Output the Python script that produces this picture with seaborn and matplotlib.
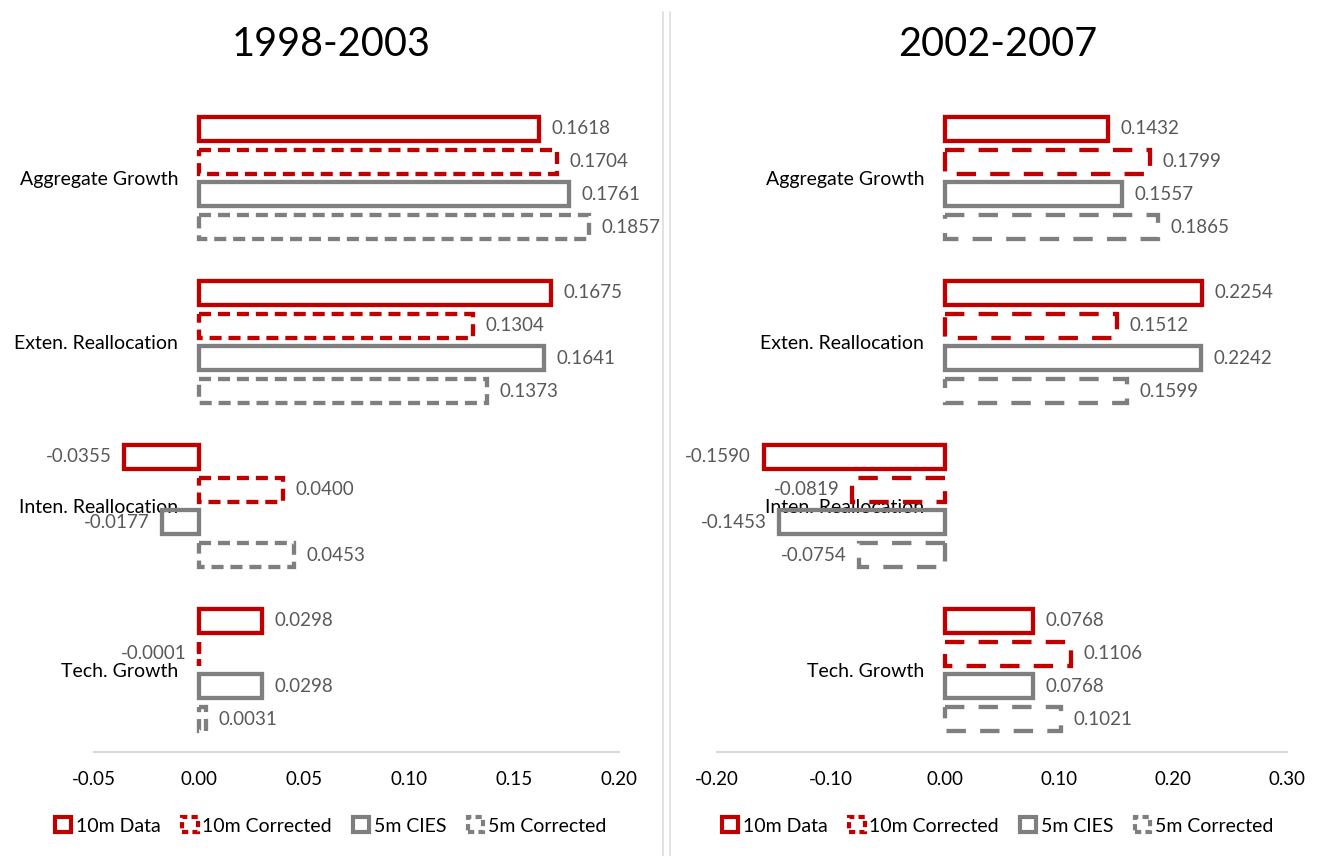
import pandas as pd
import matplotlib.pyplot as plt
from matplotlib.patches import Patch
from matplotlib.lines import Line2D
import seaborn as sns

# data
categories = ["Aggregate Growth", "Exten. Reallocation", "Inten. Reallocation", "Tech. Growth"]
series = ["10m Data", "10m Corrected", "5m CIES", "5m Corrected"]

p1_10m_data = [0.1618, 0.1675, -0.0355, 0.0298]
p1_10m_corr = [0.1704, 0.1304, 0.0400, -0.0001]
p1_5m_cies = [0.1761, 0.1641, -0.0177, 0.0298]
p1_5m_corr = [0.1857, 0.1373, 0.0453, 0.0031]

p2_10m_data = [0.1432, 0.2254, -0.1590, 0.0768]
p2_10m_corr = [0.1799, 0.1512, -0.0819, 0.1106]
p2_5m_cies = [0.1557, 0.2242, -0.1453, 0.0768]
p2_5m_corr = [0.1865, 0.1599, -0.0754, 0.1021]

titles = ["1998-2003", "2002-2007"]
xticks1 = [-0.05, 0.00, 0.05, 0.10, 0.15, 0.20]
xticks2 = [-0.20, -0.10, 0.00, 0.10, 0.20, 0.30]

RED = "#C00000"
GRAY = "#7F7F7F"
colors = [RED, RED, GRAY, GRAY]

sns.set_style("white")
plt.rcParams["font.family"] = ["Lato", "DejaVu Sans"]
plt.rcParams["text.color"] = "black"


def make_df(vals):
    rows = []
    for s, v in zip(series, vals):
        for c, x in zip(categories, v):
            rows.append({"category": c, "series": s, "value": x})
    return pd.DataFrame(rows)


def draw_panel(ax, df, xticks, dash):
    sns.barplot(data=df, x="value", y="category", hue="series", orient="h",
                order=categories, hue_order=series, palette=colors,
                fill=False, width=0.8, gap=0.27, linewidth=3.1,
                legend=False, ax=ax)
    styles = ["solid", (0, dash), "solid", (0, dash)]
    for cont, ls in zip(ax.containers, styles):
        for bar in cont:
            bar.set_linestyle(ls)
            bar.set_joinstyle("miter")
            bar.set_capstyle("butt")
        ax.bar_label(cont, fmt="%.4f", padding=9, color="#595959", fontsize=13.5)
    ax.set_xlim(xticks[0], xticks[-1])
    ax.set_ylim(3.5, -0.5)
    ax.set_xticks(xticks)
    ax.set_xticklabels([f"{t:.2f}" for t in xticks], fontsize=13.5)
    ax.set_xlabel("")
    ax.set_ylabel("")
    # category labels sit next to the zero line, like Excel does it
    ax.spines["left"].set_position(("data", 0))
    ax.spines["left"].set_visible(False)
    ax.spines["top"].set_visible(False)
    ax.spines["right"].set_visible(False)
    ax.spines["bottom"].set_color("#D9D9D9")
    ax.spines["bottom"].set_linewidth(1.5)
    ax.tick_params(axis="y", length=0, pad=15, labelsize=14, labelcolor="black")
    ax.tick_params(axis="x", length=0, pad=14, labelcolor="black")
    ax.patch.set_alpha(0)


fig = plt.figure(figsize=(13.23, 8.56), dpi=100)
W, H = 1323, 856

# divider between the two charts (behind everything)
for x in [663, 670]:
    fig.add_artist(Line2D([x / W, x / W], [0, 1 - 12 / H], color="#DDDDDD",
                          linewidth=1.2, transform=fig.transFigure, zorder=0))

ax1 = fig.add_axes([94 / W, 104 / H, 525 / W, 656 / H])
ax2 = fig.add_axes([717 / W, 104 / H, 570 / W, 656 / H])

draw_panel(ax1, make_df([p1_10m_data, p1_10m_corr, p1_5m_cies, p1_5m_corr]), xticks1, (2.8, 1.6))
draw_panel(ax2, make_df([p2_10m_data, p2_10m_corr, p2_5m_cies, p2_5m_corr]), xticks2, (4.5, 3.3))

# titles and legends are centred on each chart area
for cx, t in zip([331, 998], titles):
    fig.text(cx / W, 1 - 44 / H, t, ha="center", va="center", fontsize=28.5, color="black")
    handles = [Patch(facecolor="white", edgecolor=c, linewidth=3,
                     linestyle="solid" if i % 2 == 0 else (0, (1.5, 1)))
               for i, c in enumerate(colors)]
    leg = fig.legend(handles, series, loc="center", bbox_to_anchor=(cx / W, 1 - 826 / H),
                     ncol=4, frameon=False, fontsize=14, handlelength=0.8, handleheight=0.8,
                     handletextpad=0.25, columnspacing=1.1)
    for txt in leg.get_texts():
        txt.set_color("black")

plt.savefig("out.png", dpi=100)
plt.close()
